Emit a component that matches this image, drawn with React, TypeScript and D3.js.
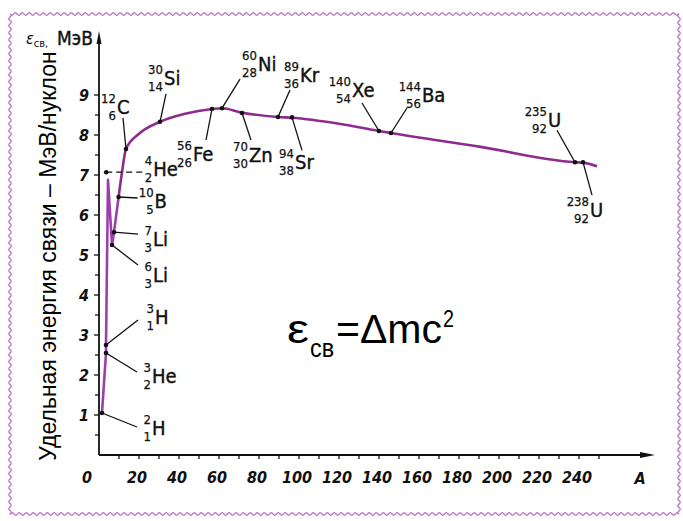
import React, { useEffect, useRef } from 'react';
import * as d3 from 'd3';

// nuclides marked on the curve
const nuclideNames = ['H', 'He', 'H', 'He', 'Li', 'Li', 'B', 'C', 'Si', 'Fe', 'Ni', 'Zn', 'Kr', 'Sr', 'Xe', 'Ba', 'U', 'U'];
const massNumbers = [2, 3, 3, 4, 6, 7, 10, 12, 30, 56, 60, 70, 89, 94, 140, 144, 235, 238];
const chargeNumbers = [1, 2, 1, 2, 3, 3, 5, 6, 14, 26, 28, 30, 36, 38, 54, 56, 92, 92];
// where the dots sit in the drawing (A as drawn, MeV per nucleon)
const dotA = [1.5, 3.5, 3.5, 3.6, 6.5, 7.5, 9.8, 13.5, 30.5, 56.5, 61.5, 71.5, 89.5, 96.5, 140, 146, 238, 242];
const bindingEnergy = [1.05, 2.55, 2.75, 7.07, 5.25, 5.57, 6.45, 7.65, 8.33, 8.65, 8.67, 8.55, 8.45, 8.44, 8.1, 8.05, 7.32, 7.32];

// light-nuclei spike
const spikeA = [1.5, 3.5, 3.5, 4.5, 6.5, 7.5, 9.8];
const spikeE = [1.05, 2.55, 2.75, 6.88, 5.25, 5.57, 6.45];
// smooth part of the curve
const curveA = [9.8, 11.5, 13.5, 20, 30.5, 43, 56.5, 61.5, 71.5, 89.5, 96.5, 120, 140, 146, 190, 238, 242, 249];
const curveE = [6.45, 7.07, 7.65, 8.03, 8.33, 8.53, 8.65, 8.67, 8.56, 8.45, 8.43, 8.28, 8.1, 8.05, 7.71, 7.32, 7.31, 7.22];

const xTickLabels = [20, 40, 60, 80, 100, 120, 140, 160, 180, 200, 220, 240];
const yTickLabels = [1, 2, 3, 4, 5, 6, 7, 8, 9];

// label offsets from each dot: [label dx, label dy, leader end dx, leader end dy]
const labelOffsets = [
  [50, 22, 35, 14], [46, 30, 31, 19], [49, -21, 32, -25], [47, 4, 38, 0],
  [41, 37, 26, 20], [39, 14, 24, 2], [36, 11, 19, 1], [-9, -35, -3, -31],
  [4, -37, 6, -28], [-19, 52, -6, 31], [36, -37, 18, -29], [7, 49, 9, 27],
  [22, -35, 12, -27], [3, 52, 10, 33], [-27, -34, -17, -28], [31, -31, 16, -25],
  [-27, -35, -18, -32], [7, 55, 9, 33],
];

const labelFont = '"DejaVu Sans Condensed", "DejaVu Sans", sans-serif';
const arial = '"Liberation Sans", Arial, sans-serif';

const wavy = (x0: number, y0: number, x1: number, y1: number) => {
  const len = Math.hypot(x1 - x0, y1 - y0);
  const ux = (x1 - x0) / len, uy = (y1 - y0) / len;
  const pts: [number, number][] = [];
  for (let s = 0; s <= len; s += 1) {
    const o = 1.3 * Math.sin((s / 7) * 2 * Math.PI);
    pts.push([x0 + ux * s - uy * o, y0 + uy * s + ux * o]);
  }
  return d3.line()(pts);
};

const App = () => {
  const svgRef = useRef<SVGSVGElement>(null);

  useEffect(() => {
    const svg = d3.select(svgRef.current);
    svg.selectAll('*').remove();

    const x = d3.scaleLinear().domain([0, 240]).range([99, 579]);
    const y = d3.scaleLinear().domain([0, 9]).range([455, 95]);

    // border
    const border = '#bb6fc3';
    [[10, 14, 679, 14], [679, 14, 679, 514], [679, 514, 10, 514], [10, 514, 10, 14]].forEach(([a, b, c, d]) => {
      svg.append('path').attr('d', wavy(a, b, c, d)).attr('fill', 'none').attr('stroke', border).attr('stroke-width', 1.2);
    });

    // axes
    svg.append('line').attr('x1', x(0)).attr('y1', y(0)).attr('x2', 645).attr('y2', y(0)).attr('stroke', '#111').attr('stroke-width', 1.8);
    svg.append('path').attr('d', `M655,${y(0)} L640,${y(0) - 3} L640,${y(0) + 3} Z`).attr('fill', '#111');
    svg.append('line').attr('x1', x(0)).attr('y1', y(0)).attr('x2', x(0)).attr('y2', 42).attr('stroke', '#111').attr('stroke-width', 1.8);
    svg.append('path').attr('d', `M${x(0)},31 L${x(0) - 2.5},44 L${x(0) + 2.5},44 Z`).attr('fill', '#111');

    // x ticks every 10
    d3.range(10, 251, 10).forEach((v) => {
      svg.append('line').attr('x1', x(v)).attr('x2', x(v)).attr('y1', y(0)).attr('y2', y(0) + 4).attr('stroke', '#111').attr('stroke-width', 1.3);
    });
    // y ticks every 0.5
    d3.range(0.5, 9.01, 0.5).forEach((v) => {
      const len = v % 1 === 0 ? 5 : 4;
      svg.append('line').attr('x1', x(0) - len).attr('x2', x(0)).attr('y1', y(v)).attr('y2', y(v)).attr('stroke', '#111').attr('stroke-width', 1.3);
    });

    const tickStyle = (t: any) =>
      t.attr('font-family', labelFont).attr('font-size', 16).attr('font-style', 'italic').attr('font-weight', 'bold').attr('fill', '#111');

    svg.selectAll('.xt').data(xTickLabels).enter().append('text').attr('class', 'xt')
      .attr('x', (d) => x(d) - 2).attr('y', 483).attr('text-anchor', 'middle').text((d) => d).call(tickStyle);
    svg.append('text').attr('x', 87).attr('y', 483).attr('text-anchor', 'middle').text('0').call(tickStyle);
    svg.append('text').attr('x', 640).attr('y', 484).attr('text-anchor', 'middle').text('A').call(tickStyle);
    svg.selectAll('.yt').data(yTickLabels).enter().append('text').attr('class', 'yt')
      .attr('x', 89).attr('y', (d) => y(d) + 6).attr('text-anchor', 'end').text((d) => d).call(tickStyle);

    // unit label at the top of the axis
    const unit = svg.append('text').attr('x', 26).attr('y', 44).attr('font-family', labelFont).attr('fill', '#111');
    unit.append('tspan').attr('font-size', 16).attr('font-style', 'italic').text('ε');
    unit.append('tspan').attr('font-size', 11).attr('dy', 3).text('св,');
    unit.append('tspan').attr('x', 57).attr('y', 45).attr('font-size', 19)
      .attr('stroke', '#111').attr('stroke-width', 0.4).text('МэВ');

    // curve
    const line = d3.line<number>().x((d, i) => x(spikeA[i])).y((d, i) => y(spikeE[i]));
    svg.append('path').attr('d', line(spikeE)).attr('fill', 'none').attr('stroke', '#9a40ac').attr('stroke-width', 2.6).attr('stroke-linejoin', 'round');
    const smooth = d3.line<number>().x((d, i) => x(curveA[i])).y((d, i) => y(curveE[i])).curve(d3.curveMonotoneX);
    svg.append('path').attr('d', smooth(curveE)).attr('fill', 'none').attr('stroke', '#8e2c8e').attr('stroke-width', 2.6);

    // nuclide dots, leaders and labels
    nuclideNames.forEach((name, i) => {
      const cx = x(dotA[i]);
      const cy = y(bindingEnergy[i]);
      const [ldx, ldy, ex, ey] = labelOffsets[i];
      svg.append('line').attr('x1', cx).attr('y1', cy).attr('x2', cx + ex).attr('y2', cy + ey)
        .attr('stroke', '#111').attr('stroke-width', 1.3).attr('stroke-dasharray', i === 3 ? '6,4' : null);
      svg.append('circle').attr('cx', cx).attr('cy', cy).attr('r', 2.3).attr('fill', '#111');
      const lx = cx + ldx;
      const ly = cy + ldy;
      svg.append('text').attr('x', lx).attr('y', ly).attr('font-family', labelFont).attr('font-size', 20)
        .attr('fill', '#111').attr('stroke', '#111').attr('stroke-width', 0.4).text(name);
      svg.append('text').attr('x', lx - 1).attr('y', ly - 11).attr('text-anchor', 'end').attr('font-family', labelFont).attr('font-size', 13)
        .attr('fill', '#111').attr('stroke', '#111').attr('stroke-width', 0.25).text(massNumbers[i]);
      svg.append('text').attr('x', lx - 1).attr('y', ly + 6).attr('text-anchor', 'end').attr('font-family', labelFont).attr('font-size', 13)
        .attr('fill', '#111').attr('stroke', '#111').attr('stroke-width', 0.25).text(chargeNumbers[i]);
    });

    // rotated axis title
    svg.append('text').attr('transform', 'translate(56,256) rotate(-90)').attr('text-anchor', 'middle')
      .attr('font-family', arial).attr('font-size', 23).attr('fill', '#000')
      .text('Удельная энергия связи – МэВ/нуклон');

    // formula
    const part = (txt: string, px: number, py: number, size: number, w: number) =>
      svg.append('text').attr('x', px).attr('y', py).attr('font-family', arial).attr('font-size', size)
        .attr('textLength', w).attr('lengthAdjust', 'spacingAndGlyphs').attr('fill', '#000').text(txt);
    part('ε', 287, 343, 40, 22);
    part('св', 310, 357, 26, 24);
    part('=Δmc', 336, 343, 40, 106);
    part('2', 443, 327, 24, 11);
  }, []);

  return (
    <svg ref={svgRef} width={683} height={521} style={{ position: 'absolute', left: 0, top: 0, background: '#fff' }}></svg>
  );
};

export default App;
